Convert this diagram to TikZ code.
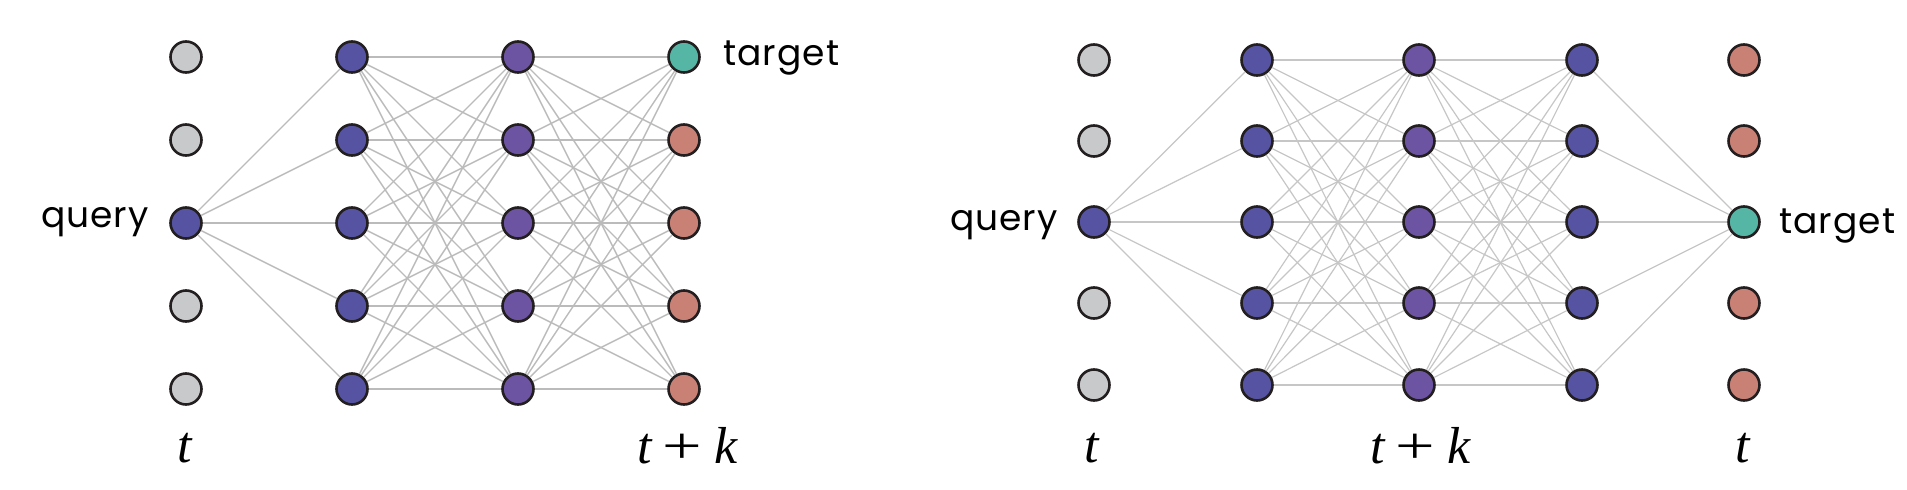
\documentclass[tikz,border=0pt]{standalone}
\usepackage{fontspec}
\usepackage{graphicx}
\newfontfamily\lblfont[LetterSpace=3]{Poppins}
\newfontfamily\serifmath{Liberation Serif}
\definecolor{cgray}{HTML}{C8C9CB}
\definecolor{cblue}{HTML}{5654A2}
\definecolor{cpurple}{HTML}{6C54A3}
\definecolor{csalmon}{HTML}{C98176}
\definecolor{cteal}{HTML}{56B6A5}
\definecolor{cborder}{HTML}{231F20}
\definecolor{cedge}{HTML}{BBBBBB}
\definecolor{cedgeR}{HTML}{C6C6C6}
\newcommand{\bigplus}{\scalebox{1.35}[1]{\upshape +}}
\tikzset{
  nd/.style={circle, draw=cborder, line width=2.6pt, minimum size=31pt, inner sep=0pt},
  gnode/.style={nd, fill=cgray},
  bnode/.style={nd, fill=cblue},
  pnode/.style={nd, fill=cpurple},
  snode/.style={nd, fill=csalmon},
  tnode/.style={nd, fill=cteal},
  edgeL/.style={draw=cedge, line width=1.4pt},
  edgeR/.style={draw=cedgeR, line width=1.2pt},
  lbl/.style={font=\lblfont\fontsize{36}{40}\selectfont, inner sep=0pt},
  mlbl/.style={font=\serifmath\itshape\fontsize{52}{56}\selectfont, inner sep=0pt}
}
\begin{document}
\begin{tikzpicture}[x=1pt,y=-1pt]
\useasboundingbox (0,0) rectangle (1907,490);
% ---------- left network ----------
\foreach \y/\s [count=\i] in {57/gnode,140/gnode,223/bnode,306/gnode,389/gnode}
  \node[\s] (La\i) at (186,\y) {};
\foreach \y [count=\i] in {57,140,223,306,389}
  \node[bnode] (Lb\i) at (352,\y) {};
\foreach \y [count=\i] in {57,140,223,306,389}
  \node[pnode] (Lc\i) at (518,\y) {};
\foreach \y/\s [count=\i] in {57/tnode,140/snode,223/snode,306/snode,389/snode}
  \node[\s] (Ld\i) at (684,\y) {};
\foreach \j in {1,...,5}
  \draw[edgeL] (La3) -- (Lb\j);
\foreach \i in {1,...,5}
  \foreach \j in {1,...,5} {
    \draw[edgeL] (Lb\i) -- (Lc\j);
    \draw[edgeL] (Lc\i) -- (Ld\j);
  }
\node[lbl, anchor=base east] (qL) at (149,227) {query};
\node[lbl, anchor=base west] (tgL) at (723,65) {target};
\node[mlbl, anchor=base] (tL) at (185,462) {t};
\node[mlbl, anchor=base] (tkL) at (688,463) {t\hspace{10pt}\bigplus\hspace{13pt}k};
% ---------- right network ----------
\foreach \y/\s [count=\i] in {60/gnode,141/gnode,222/bnode,303/gnode,385/gnode}
  \node[\s] (Ra\i) at (1094,\y) {};
\foreach \y [count=\i] in {60,141,222,303,385}
  \node[bnode] (Rb\i) at (1257,\y) {};
\foreach \y [count=\i] in {60,141,222,303,385}
  \node[pnode] (Rc\i) at (1419,\y) {};
\foreach \y [count=\i] in {60,141,222,303,385}
  \node[bnode] (Rd\i) at (1582,\y) {};
\foreach \y/\s [count=\i] in {60/snode,141/snode,222/tnode,303/snode,385/snode}
  \node[\s] (Re\i) at (1744,\y) {};
\foreach \j in {1,...,5} {
  \draw[edgeR] (Ra3) -- (Rb\j);
  \draw[edgeR] (Rd\j) -- (Re3);
}
\foreach \i in {1,...,5}
  \foreach \j in {1,...,5} {
    \draw[edgeR] (Rb\i) -- (Rc\j);
    \draw[edgeR] (Rc\i) -- (Rd\j);
  }
\node[lbl, anchor=base east] (qR) at (1058,230) {query};
\node[lbl, anchor=base west] (tgR) at (1779,233) {target};
\node[mlbl, anchor=base] (tR1) at (1092,462) {t};
\node[mlbl, anchor=base] (tkR) at (1421,463) {t\hspace{10pt}\bigplus\hspace{13pt}k};
\node[mlbl, anchor=base] (tR2) at (1743,462) {t};
\end{tikzpicture}
\end{document}
